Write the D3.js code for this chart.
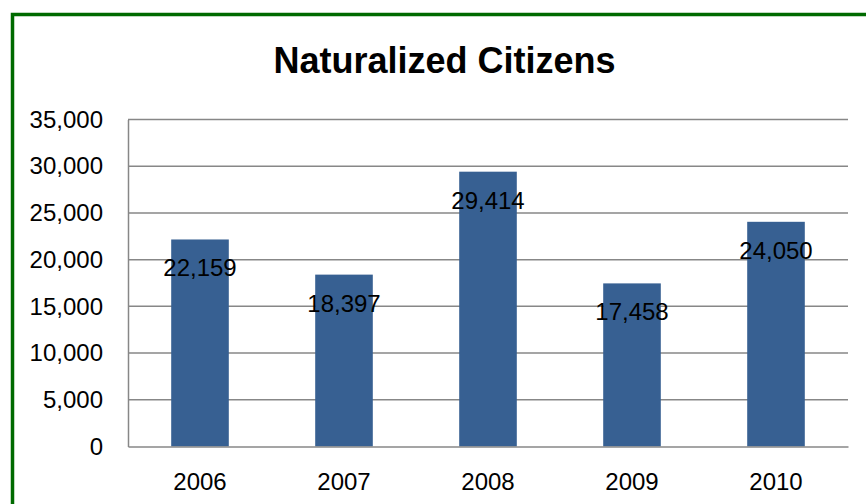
<!DOCTYPE html>
<html>
<head>
<meta charset="utf-8">
<script src="https://cdn.jsdelivr.net/npm/d3@7"></script>
<style>
  body { margin: 0; background: #fff; }
  svg { display: block; font-family: "Liberation Sans", Arial, sans-serif; }
</style>
</head>
<body>
<svg id="chart"></svg>
<script>
// Chart data
var years = ["2006", "2007", "2008", "2009", "2010"];
var citizens = [22159, 18397, 29414, 17458, 24050];
var yTicks = [0, 5000, 10000, 15000, 20000, 25000, 30000, 35000];

var W = 866, H = 504;
var margin = { top: 119.5, right: 18, bottom: 57.5, left: 128 },
    width = W - margin.left - margin.right,
    height = H - margin.top - margin.bottom;

var svg = d3.select("#chart")
    .attr("width", W)
    .attr("height", H);

// green frame round the chart
svg.append("rect")
    .attr("x", 12.5)
    .attr("y", 14.5)
    .attr("width", W + 20)
    .attr("height", H + 20)
    .attr("fill", "#fff")
    .attr("stroke", "#006a00")
    .attr("stroke-width", 3.5);

// Title
svg.append("text")
    .attr("x", 444.5)
    .attr("y", 73)
    .attr("text-anchor", "middle")
    .style("font-size", "36px")
    .style("font-weight", "bold")
    .text("Naturalized Citizens");

var g = svg.append("g")
    .attr("transform", "translate(" + margin.left + "," + margin.top + ")");

var x = d3.scaleBand()
    .domain(years)
    .range([0, width])
    .paddingInner(0.6)
    .paddingOuter(0.3);

var y = d3.scaleLinear()
    .domain([0, 35000])
    .range([height, 0]);

var fmt = d3.format(",");

// gridlines
g.selectAll(".grid")
    .data(yTicks.filter(function(d) { return d > 0; }))
    .enter().append("line")
    .attr("class", "grid")
    .attr("x1", 0)
    .attr("x2", width)
    .attr("y1", function(d) { return y(d); })
    .attr("y2", function(d) { return y(d); })
    .attr("stroke", "#878787")
    .attr("stroke-width", 1.5);

// bars
g.selectAll(".bar")
    .data(citizens)
    .enter().append("rect")
    .attr("class", "bar")
    .attr("x", function(d, i) { return x(years[i]); })
    .attr("width", x.bandwidth())
    .attr("y", function(d) { return y(d); })
    .attr("height", function(d) { return height - y(d); })
    .attr("fill", "#376092");

// y axis
var yAxis = g.append("g")
    .call(d3.axisLeft(y).tickValues(yTicks).tickFormat(fmt).tickSize(0).tickPadding(25));
yAxis.select(".domain").attr("stroke", "#878787").attr("stroke-width", 1.5);
yAxis.selectAll("text")
    .style("font-size", "24px")
    .style("font-family", "'Liberation Sans', Arial, sans-serif")
    .attr("fill", "#000");

// x axis
var xAxis = g.append("g")
    .attr("transform", "translate(0," + height + ")")
    .call(d3.axisBottom(x).tickSize(0).tickPadding(26));
xAxis.select(".domain").attr("stroke", "#878787").attr("stroke-width", 1.5);
xAxis.selectAll("text")
    .style("font-size", "24px")
    .style("font-family", "'Liberation Sans', Arial, sans-serif")
    .attr("fill", "#000");

// data labels, just inside the top of each bar
g.selectAll(".label")
    .data(citizens)
    .enter().append("text")
    .attr("class", "label")
    .attr("x", function(d, i) { return x(years[i]) + x.bandwidth() / 2; })
    .attr("y", function(d) { return y(d) + 37; })
    .attr("text-anchor", "middle")
    .style("font-size", "24px")
    .attr("fill", "#000")
    .text(function(d) { return fmt(d); });
</script>
</body>
</html>
